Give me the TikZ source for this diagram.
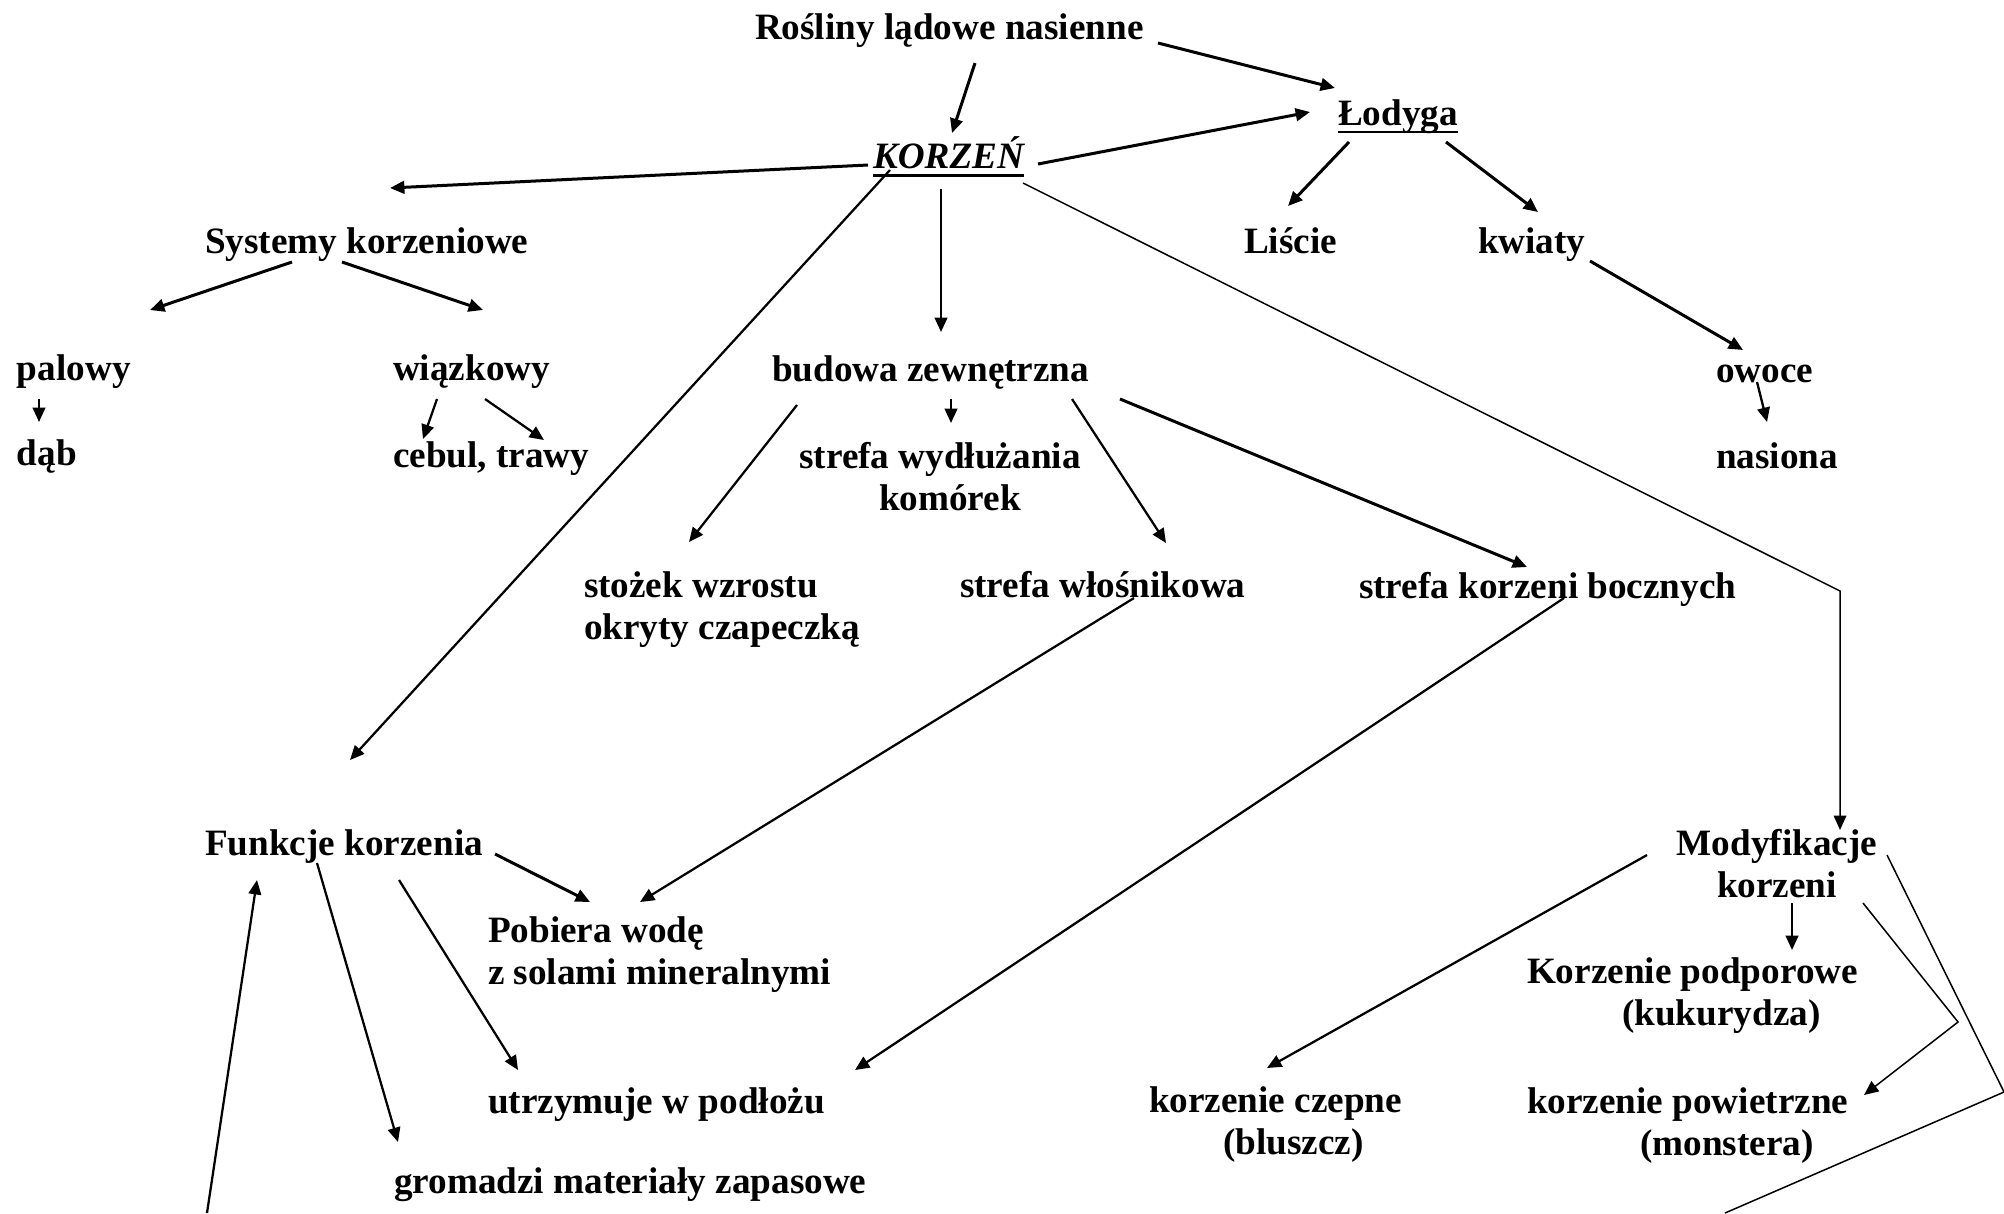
\documentclass[tikz,border=0pt]{standalone}
\usepackage{fontspec}
\setmainfont{Liberation Serif}
\usetikzlibrary{arrows.meta}
\begin{document}
\begin{tikzpicture}[x=0.33333pt,y=-0.33333pt,
  txt/.style={font=\fontsize{12.4}{14}\selectfont\bfseries, inner sep=0pt, outer sep=0pt, anchor=base west},
  ctr/.style={txt, anchor=base},
  conn/.style={-{Triangle[length=4.8pt,width=4.2pt]}, line width=0.75pt},
  thk/.style={conn, line width=1pt},
  thn/.style={conn, line width=0.5pt},
  plainline/.style={line width=0.5pt}]
\useasboundingbox (0,0) rectangle (2004,1213);
\clip (0,0) rectangle (2004,1213);
% nodes
\node[txt] (R) at (755,39) {Rośliny lądowe nasienne};
\node[txt, font=\fontsize{12.4}{14}\selectfont\bfseries\itshape] (K) at (873,168) {KORZEŃ};
\node[txt] (L) at (1338,125) {Łodyga};
\node[txt] (SK) at (205,253) {Systemy korzeniowe};
\node[txt] (Li) at (1244,253) {Liście};
\node[txt] (Kw) at (1478,253) {kwiaty};
\node[txt] (pal) at (17,380) {palowy};
\node[txt] (wia) at (393,380) {wiązkowy};
\node[txt] (bz) at (772,381) {budowa zewnętrzna};
\node[txt] (ow) at (1716,382) {owoce};
\node[txt] (dab) at (17,465) {dąb};
\node[txt] (ceb) at (393,467) {cebul, trawy};
\node[ctr] (swk) at (940,468) {\begin{tabular}[t]{@{}c@{}}strefa wydłużania\\\hspace*{6.7pt}komórek\end{tabular}};
\node[txt] (nas) at (1716,468) {nasiona};
\node[txt] (sto) at (584,597) {\begin{tabular}[t]{@{}l@{}}stożek wzrostu\\okryty czapeczką\end{tabular}};
\node[txt] (swl) at (960,597) {strefa włośnikowa};
\node[txt] (skb) at (1359,598) {strefa korzeni bocznych};
\node[txt] (fun) at (205,855) {Funkcje korzenia};
\node[ctr] (mod) at (1777,855) {\begin{tabular}[t]{@{}c@{}}Modyfikacje\\korzeni\end{tabular}};
\node[txt] (pob) at (488,942) {\begin{tabular}[t]{@{}l@{}}Pobiera wodę\\z solami mineralnymi\end{tabular}};
\node[txt] (kp) at (1527,983) {\begin{tabular}[t]{@{}l@{}}Korzenie podporowe\\\hspace*{31.7pt}(kukurydza)\end{tabular}};
\node[txt] (utr) at (488,1113) {utrzymuje w podłożu};
\node[txt] (kcz) at (1149,1112) {\begin{tabular}[t]{@{}l@{}}korzenie czepne\\\hspace*{24.7pt}(bluszcz)\end{tabular}};
\node[txt] (kpw) at (1527,1113) {\begin{tabular}[t]{@{}l@{}}korzenie powietrzne\\\hspace*{37.7pt}(monstera)\end{tabular}};
\node[txt] (gro) at (394,1193) {gromadzi materiały zapasowe};
% underlines
\draw[line width=1pt] ([shift={(0,7)}]K.base west) -- ([shift={(0,7)}]K.base east);
\draw[line width=0.7pt] ([shift={(0,7)}]L.base west) -- ([shift={(0,7)}]L.base east);
% connectors
\draw[thk] ([shift={(220,24)}]R.base west) -- ([shift={(79,-35)}]K.base west);
\draw[thk] ([shift={(403,4)}]R.base west) -- ([shift={(-3,-37)}]L.base west);
\draw[thk] ([shift={(165,-4)}]K.base west) -- ([shift={(-28,-13)}]L.base west);
\draw[thk] ([shift={(-5,-3)}]K.base west) -- ([shift={(185,-65)}]SK.base west);
\draw[conn] ([shift={(68,21)}]K.base west) -- ([shift={(169,-49)}]bz.base west);
\draw[conn] ([shift={(17,2)}]K.base west) -- ([shift={(145,-95)}]fun.base west);
\draw[thn] ([shift={(150,15)}]K.base west) -- ([shift={(63,-264)}]mod.base) -- ([shift={(63,-25)}]mod.base);
\draw[thk] ([shift={(11,17)}]L.base west) -- ([shift={(44,-47)}]Li.base west);
\draw[thk] ([shift={(108,17)}]L.base west) -- ([shift={(60,-41)}]Kw.base west);
\draw[thk] ([shift={(112,8)}]Kw.base west) -- ([shift={(27,-32)}]ow.base west);
\draw[conn] ([shift={(41,0)}]ow.base west) -- ([shift={(51,-46)}]nas.base west);
\draw[thk] ([shift={(87,9)}]SK.base west) -- ([shift={(133,-70)}]pal.base west);
\draw[thk] ([shift={(137,9)}]SK.base west) -- ([shift={(90,-70)}]wia.base west);
\draw[conn] ([shift={(22,19)}]pal.base west) -- ([shift={(22,-43)}]dab.base west);
\draw[conn] ([shift={(44,19)}]wia.base west) -- ([shift={(30,-28)}]ceb.base west);
\draw[conn] ([shift={(92,19)}]wia.base west) -- ([shift={(151,-27)}]ceb.base west);
\draw[conn] ([shift={(25,24)}]bz.base west) -- ([shift={(105,-55)}]sto.base west);
\draw[conn] ([shift={(179,18)}]bz.base west) -- ([shift={(11,-45)}]swk.base);
\draw[conn] ([shift={(300,18)}]bz.base west) -- ([shift={(206,-54)}]swl.base west);
\draw[thk] ([shift={(348,18)}]bz.base west) -- ([shift={(168,-31)}]skb.base west);
\draw[conn] ([shift={(174,1)}]swl.base west) -- ([shift={(152,-40)}]pob.base west);
\draw[conn] ([shift={(205,0)}]skb.base west) -- ([shift={(367,-43)}]utr.base west);
\draw[thk] ([shift={(290,-1)}]fun.base west) -- ([shift={(102,-40)}]pob.base west);
\draw[conn] ([shift={(194,25)}]fun.base west) -- ([shift={(30,-43)}]utr.base west);
\draw[conn] ([shift={(112,8)}]fun.base west) -- ([shift={(4,-51)}]gro.base west);
\coordinate (zb) at (207,1213);
\draw[conn] (zb) -- ([shift={(52,25)}]fun.base west);
\draw[conn] ([shift={(-130,0)}]mod.base) -- ([shift={(118,-44)}]kcz.base west);
\draw[conn] ([shift={(15,48)}]mod.base) -- ([shift={(265,-33)}]kp.base west);
\coordinate (ccb) at (1958,1022);
\draw[thn] ([shift={(86,48)}]mod.base) -- (ccb) -- ([shift={(337,-18)}]kpw.base west);
\coordinate (dd1) at (2004,1092);
\coordinate (dd2) at (1725,1213);
\draw[plainline] ([shift={(110,0)}]mod.base) -- (dd1) -- (dd2);
\end{tikzpicture}
\end{document}
